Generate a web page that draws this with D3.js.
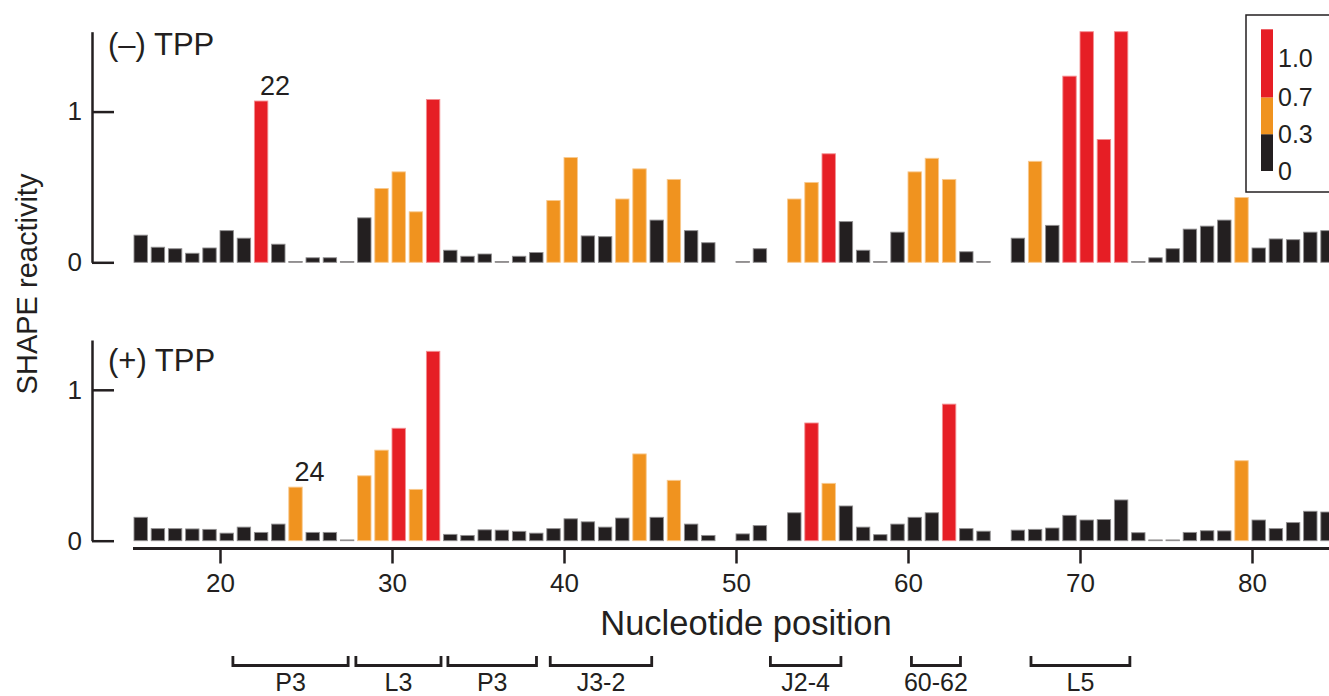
<!DOCTYPE html>
<html>
<head>
<meta charset="utf-8">
<script src="https://cdnjs.cloudflare.com/ajax/libs/d3/7.8.5/d3.min.js"></script>
<style>
    body { margin: 0; background: #fff; }
    svg { display: block; }
    text { font-family: "Liberation Sans", Arial, Helvetica, sans-serif; fill: #231f20; }
</style>
</head>
<body>
<div id="draw"></div>
<script>
(function () {
    "use strict";

    // nucleotide positions 15..84 (null = no data)
    var positions = [15, 16, 17, 18, 19, 20, 21, 22, 23, 24, 25, 26, 27, 28, 29, 30, 31, 32, 33, 34,
        35, 36, 37, 38, 39, 40, 41, 42, 43, 44, 45, 46, 47, 48, 49, 50, 51, 52, 53, 54,
        55, 56, 57, 58, 59, 60, 61, 62, 63, 64, 65, 66, 67, 68, 69, 70, 71, 72, 73, 74,
        75, 76, 77, 78, 79, 80, 81, 82, 83, 84];

    var minusTPP = [0.18, 0.10, 0.09, 0.06, 0.095, 0.21, 0.16, 1.07, 0.12, 0.005,
        0.03, 0.03, 0.005, 0.295, 0.49, 0.60, 0.335, 1.08, 0.08, 0.04,
        0.055, 0.005, 0.04, 0.065, 0.41, 0.695, 0.175, 0.17, 0.42, 0.62,
        0.28, 0.55, 0.21, 0.13, null, 0.005, 0.09, null, 0.42, 0.53,
        0.72, 0.27, 0.08, 0.005, 0.20, 0.60, 0.69, 0.55, 0.07, 0.005,
        null, 0.16, 0.67, 0.245, 1.235, 1.53, 0.815, 1.53, 0.005, 0.03,
        0.09, 0.22, 0.24, 0.28, 0.43, 0.095, 0.155, 0.15, 0.20, 0.21];

    var plusTPP = [0.155, 0.08, 0.08, 0.078, 0.075, 0.05, 0.09, 0.055, 0.11, 0.355,
        0.055, 0.055, 0.005, 0.43, 0.60, 0.745, 0.34, 1.255, 0.042, 0.035,
        0.072, 0.07, 0.062, 0.05, 0.08, 0.145, 0.125, 0.09, 0.15, 0.575,
        0.155, 0.40, 0.11, 0.035, null, 0.045, 0.10, null, 0.185, 0.78,
        0.38, 0.23, 0.09, 0.04, 0.11, 0.155, 0.185, 0.905, 0.08, 0.063,
        null, 0.07, 0.075, 0.084, 0.168, 0.137, 0.14, 0.27, 0.053, 0.005,
        0.005, 0.055, 0.066, 0.065, 0.53, 0.137, 0.08, 0.12, 0.195, 0.19];

    var xTicks = [20, 30, 40, 50, 60, 70, 80];
    var yTicks = [0, 1];

    // reactivity colour classes
    var thresholds = [0.3, 0.7];
    var classColors = ["#231f20", "#f0931f", "#e61e25"];
    var legendLabels = ["0", "0.3", "0.7", "1.0"];

    // structural elements under the axis (ranges in nucleotide units)
    var regionNames = ["P3", "L3", "P3", "J3-2", "J2-4", "60-62", "L5"];
    var regionStart = [20.75, 27.9, 33.25, 39.2, 52.0, 60.2, 67.15];
    var regionEnd = [27.45, 32.85, 38.4, 45.1, 56.1, 63.05, 72.9];

    var W = 1329, H = 696;

    var svg = d3.select("#draw").append("svg")
        .attr("width", W).attr("height", H);

    var x = d3.scaleLinear().domain([20, 80]).range([220, 1252]);
    var barW = x(20.78) - x(20);
    var color = d3.scaleThreshold().domain(thresholds).range(classColors);

    var panels = [
        { title: "(\u2013) TPP", values: minusTPP, y0: 262.3, y1: 31.7, max: 1.53, mark: 22, titleY: 55 },
        { title: "(+) TPP", values: plusTPP, y0: 540.7, y1: 340, max: 1.33, mark: 24, titleY: 371 }
    ];

    panels.forEach(function (p) {
        var y = d3.scaleLinear().domain([0, p.max]).range([p.y0, p.y1]).clamp(true);
        var g = svg.append("g");

        var rows = positions.map(function (pos, i) {
            return { pos: pos, v: p.values[i] };
        }).filter(function (d) { return d.v !== null; });

        g.selectAll("rect").data(rows).enter().append("rect")
            .attr("x", function (d) { return x(d.pos); })
            .attr("y", function (d) { return y(d.v); })
            .attr("width", barW)
            .attr("height", function (d) { return y(0) - y(d.v); })
            .attr("fill", function (d) { return color(d.v); })
            // pale outline, tinted from the fill
            .attr("stroke", function (d) {
                return d3.interpolateRgb(color(d.v), "#fff")(0.5);
            })
            .attr("stroke-width", 0.9);

        // y axis, ticks pointing into the plot
        var ax = g.append("g").attr("transform", "translate(92,0)")
            .call(d3.axisLeft(y).tickValues(yTicks).tickFormat(d3.format("d"))
                .tickSize(-22).tickSizeOuter(0).tickPadding(10));
        ax.select(".domain").attr("stroke", "#231f20").attr("stroke-width", 2.5);
        ax.selectAll(".tick line").attr("stroke", "#231f20").attr("stroke-width", 2.5);
        ax.selectAll(".tick text").attr("font-size", 26).attr("fill", "#231f20")
            .style("font-family", "Liberation Sans, Arial, sans-serif");

        g.append("text").attr("x", 108).attr("y", p.titleY)
            .attr("font-size", 31).text(p.title);

        // numbered bar label
        var mi = positions.indexOf(p.mark);
        g.append("text")
            .attr("x", x(p.mark) + barW / 2 - 1)
            .attr("y", y(p.values[mi]) - 6)
            .attr("font-size", 27).text(p.mark);
    });

    // shared x axis
    var xa = svg.append("g").attr("transform", "translate(0,548.5)")
        .call(d3.axisBottom(x).tickValues(xTicks).tickSize(15).tickSizeOuter(0).tickPadding(10));
    xa.select(".domain").attr("d", "M" + (x(15) - 1) + ",0H" + W)
        .attr("stroke", "#231f20").attr("stroke-width", 3);
    xa.selectAll(".tick line").attr("stroke", "#231f20").attr("stroke-width", 2.5);
    xa.selectAll(".tick text").attr("font-size", 26).attr("fill", "#231f20")
        .style("font-family", "Liberation Sans, Arial, sans-serif");

    svg.append("text").attr("x", 746).attr("y", 635).attr("text-anchor", "middle")
        .attr("font-size", 34.5).text("Nucleotide position");

    svg.append("text")
        .attr("transform", "translate(37,284) rotate(-90)")
        .attr("text-anchor", "middle").attr("font-size", 29)
        .text("SHAPE reactivity");

    // region brackets
    var reg = svg.append("g");
    regionNames.forEach(function (name, i) {
        var a = x(regionStart[i]), b = x(regionEnd[i]);
        reg.append("path")
            .attr("d", "M" + a + ",656V665.5H" + b + "V656")
            .attr("fill", "none").attr("stroke", "#231f20").attr("stroke-width", 2.8);
        reg.append("text").attr("x", (a + b) / 2).attr("y", 691)
            .attr("text-anchor", "middle").attr("font-size", 25).text(name);
    });

    // colour legend
    var lg = svg.append("g");
    lg.append("rect").attr("x", 1246).attr("y", 15).attr("width", 100).attr("height", 177)
        .attr("fill", "#fff").attr("stroke", "#231f20").attr("stroke-width", 1.5);
    var ly = d3.scaleLinear().domain([0, 3]).range([171, 60.6]);
    var segs = [[0, 1], [1, 2], [2, 3.85]];
    segs.forEach(function (s, i) {
        lg.append("rect").attr("x", 1261).attr("width", 12)
            .attr("y", ly(s[1])).attr("height", ly(s[0]) - ly(s[1]))
            .attr("fill", classColors[i]);
    });
    legendLabels.forEach(function (t, i) {
        lg.append("text").attr("x", 1278).attr("y", ly(i) + (i === 3 ? -2 : 0))
            .attr("dy", "0.35em").attr("font-size", 25).text(t);
    });
}());
</script>
</body>
</html>
